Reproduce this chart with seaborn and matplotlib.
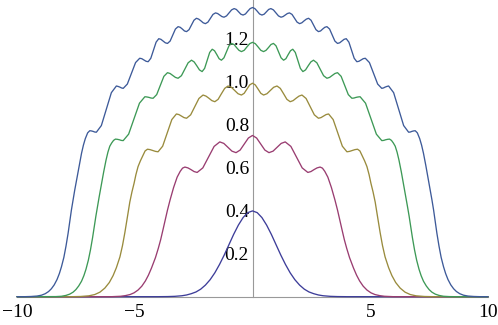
import matplotlib
matplotlib.use("Agg")
import numpy as np
import pandas as pd
import seaborn as sns
import matplotlib.pyplot as plt
from matplotlib.ticker import FixedLocator

# Right half (x >= 0) of each symmetric curve
x_n1 = [0.0, 0.2, 0.4, 0.6, 0.8, 1.0, 1.2, 1.4, 1.6, 1.8, 2.0, 2.2, 2.4, 2.6, 2.8, 3.0, 3.3, 3.6, 4.0, 10.0]
y_n1 = [0.399, 0.391, 0.368, 0.333, 0.290, 0.242, 0.194, 0.150, 0.111, 0.079, 0.054, 0.035, 0.022,
        0.014, 0.008, 0.0044, 0.0017, 0.0006, 0.0001, 0.0]

x_n5 = [0.0, 0.175, 0.35, 0.525, 0.70, 0.873, 1.045, 1.218, 1.39, 1.63, 1.87, 2.11, 2.35, 2.48, 2.61,
        2.74, 2.87, 2.97, 3.07, 3.20, 3.35, 3.50, 3.61, 3.70, 3.80, 3.90, 4.00, 4.12, 4.29, 4.42,
        4.55, 4.70, 4.86, 5.03, 5.20, 5.40, 5.60, 6.00, 10.0]
y_n5 = [0.750, 0.738, 0.710, 0.682, 0.670, 0.677, 0.695, 0.713, 0.720, 0.699, 0.649, 0.599, 0.578,
        0.582, 0.591, 0.599, 0.603, 0.598, 0.583, 0.556, 0.508, 0.450, 0.403, 0.360, 0.312, 0.265,
        0.225, 0.182, 0.133, 0.100, 0.073, 0.049, 0.031, 0.018, 0.010, 0.005, 0.002, 0.0, 0.0]

x_n9 = [0.0, 0.118, 0.235, 0.353, 0.47, 0.613, 0.755, 0.898, 1.04, 1.18, 1.32, 1.46, 1.60, 1.725,
        1.85, 1.975, 2.10, 2.275, 2.45, 2.625, 2.80, 2.908, 3.015, 3.123, 3.23, 3.425, 3.62, 3.815,
        4.01, 4.123, 4.235, 4.348, 4.46, 4.56, 4.66, 4.76, 4.86, 4.95, 5.03, 5.12, 5.21, 5.31, 5.42,
        5.52, 5.63, 5.78, 5.92, 6.08, 6.27, 6.48, 6.70, 6.95, 7.30, 7.70, 10.0]
y_n9 = [0.993, 0.985, 0.966, 0.946, 0.938, 0.944, 0.959, 0.974, 0.980, 0.969, 0.944, 0.918, 0.907,
        0.912, 0.923, 0.933, 0.938, 0.922, 0.884, 0.846, 0.830, 0.833, 0.840, 0.847, 0.850, 0.824,
        0.762, 0.700, 0.674, 0.676, 0.680, 0.684, 0.686, 0.678, 0.655, 0.632, 0.605, 0.568, 0.527,
        0.487, 0.440, 0.372, 0.298, 0.238, 0.185, 0.135, 0.098, 0.066, 0.040, 0.021, 0.010, 0.004,
        0.001, 0.0, 0.0]

x_n13 = [0.0, 0.118, 0.235, 0.353, 0.47, 0.575, 0.68, 0.785, 0.89, 0.998, 1.105, 1.213, 1.32, 1.418,
         1.515, 1.613, 1.71, 1.818, 1.925, 2.033, 2.14, 2.253, 2.365, 2.478, 2.59, 2.733, 2.875,
         3.018, 3.16, 3.273, 3.385, 3.498, 3.61, 3.763, 3.915, 4.068, 4.22, 4.308, 4.395, 4.483,
         4.57, 4.80, 5.03, 5.26, 5.49, 5.573, 5.655, 5.738, 5.82, 5.90, 5.98, 6.06, 6.14, 6.22, 6.32,
         6.43, 6.51, 6.58, 6.65, 6.72, 6.79, 6.88, 6.97, 7.07, 7.16, 7.26, 7.38, 7.50, 7.62, 7.76,
         7.92, 8.11, 8.36, 8.66, 10.0]
y_n13 = [1.183, 1.177, 1.162, 1.146, 1.140, 1.146, 1.159, 1.173, 1.178, 1.167, 1.139, 1.111, 1.100,
         1.107, 1.126, 1.144, 1.151, 1.136, 1.099, 1.062, 1.047, 1.055, 1.074, 1.092, 1.100, 1.088,
         1.058, 1.028, 1.016, 1.020, 1.029, 1.038, 1.042, 1.025, 0.983, 0.940, 0.923, 0.924, 0.927,
         0.929, 0.930, 0.900, 0.828, 0.756, 0.726, 0.727, 0.730, 0.732, 0.733, 0.727, 0.715, 0.700,
         0.672, 0.635, 0.580, 0.513, 0.465, 0.420, 0.375, 0.325, 0.275, 0.218, 0.170, 0.128, 0.098,
         0.072, 0.050, 0.033, 0.021, 0.012, 0.006, 0.002, 0.0005, 0.0, 0.0]

x_n17 = [0.0, 0.10, 0.20, 0.30, 0.40, 0.495, 0.59, 0.685, 0.78, 0.888, 0.995, 1.103, 1.21, 1.30,
         1.39, 1.48, 1.57, 1.678, 1.785, 1.893, 2.00, 2.095, 2.19, 2.285, 2.38, 2.485, 2.59, 2.695,
         2.80, 2.89, 2.98, 3.07, 3.16, 3.273, 3.385, 3.498, 3.61, 3.703, 3.795, 3.888, 3.98, 4.093,
         4.205, 4.318, 4.43, 4.52, 4.61, 4.70, 4.79, 4.965, 5.14, 5.315, 5.49, 5.563, 5.635, 5.708,
         5.78, 5.993, 6.205, 6.418, 6.63, 6.70, 6.77, 6.84, 6.91, 7.00, 7.10, 7.18, 7.26, 7.36,
         7.47, 7.55, 7.62, 7.69, 7.76, 7.83, 7.92, 8.01, 8.11, 8.20, 8.30, 8.42, 8.54, 8.66, 8.80,
         8.96, 9.15, 9.40, 9.70, 10.0]
y_n17 = [1.345, 1.340, 1.328, 1.315, 1.310, 1.314, 1.325, 1.336, 1.340, 1.334, 1.320, 1.306, 1.300,
         1.303, 1.310, 1.317, 1.320, 1.313, 1.295, 1.277, 1.270, 1.274, 1.283, 1.291, 1.295, 1.286,
         1.264, 1.242, 1.233, 1.236, 1.245, 1.253, 1.256, 1.245, 1.217, 1.189, 1.178, 1.181, 1.189,
         1.197, 1.200, 1.184, 1.147, 1.109, 1.093, 1.095, 1.101, 1.107, 1.109, 1.089, 1.039, 0.989,
         0.969, 0.971, 0.975, 0.978, 0.980, 0.949, 0.873, 0.796, 0.765, 0.766, 0.769, 0.771, 0.772,
         0.762, 0.735, 0.705, 0.667, 0.610, 0.543, 0.495, 0.450, 0.403, 0.350, 0.295, 0.235, 0.183,
         0.140, 0.108, 0.080, 0.055, 0.037, 0.024, 0.014, 0.007, 0.003, 0.001, 0.0, 0.0]

curve_names = ["n1", "n5", "n9", "n13", "n17"]
colors = ["#3d3d99", "#993d71", "#998b3d", "#3d9956", "#3d5a99"]

x_ticks = [-10, -5, 5, 10]
x_tick_labels = ["\u221210", "\u22125", "5", "10"]
y_ticks = [0.2, 0.4, 0.6, 0.8, 1.0, 1.2]
y_tick_labels = ["0.2", "0.4", "0.6", "0.8", "1.0", "1.2"]

halves = {"n1": (x_n1, y_n1), "n5": (x_n5, y_n5), "n9": (x_n9, y_n9),
          "n13": (x_n13, y_n13), "n17": (x_n17, y_n17)}

frames = []
for name in curve_names:
    xs, ys = halves[name]
    xs = np.asarray(xs, float)
    ys = np.asarray(ys, float)
    full_x = np.concatenate([-xs[::-1], xs[1:]])
    full_y = np.concatenate([ys[::-1], ys[1:]])
    frames.append(pd.DataFrame({"x": full_x, "y": full_y, "curve": name}))
df = pd.concat(frames, ignore_index=True)

sns.set_theme(style="white")
plt.rcParams["font.family"] = ["Liberation Serif", "DejaVu Serif"]

W, H = 498, 325
fig = plt.figure(figsize=(W / 100, H / 100), dpi=100)
x_left, x_right, y0_px, px_per_y = 17.0, 488.0, 296.7, 215.0
ax = fig.add_axes([x_left / W, (H - y0_px) / H, (x_right - x_left) / W, y0_px / H])
ax.set_facecolor("white")

sns.lineplot(data=df, x="x", y="y", hue="curve", hue_order=curve_names, palette=colors,
             estimator=None, sort=False, linewidth=0.95, legend=False, ax=ax)
for ln in ax.get_lines():
    ln.set_clip_on(False)
    ln.set_zorder(4)
    ln.set_solid_joinstyle("round")

ax.set_xlim(-10, 10)
ax.set_ylim(0, y0_px / px_per_y)

axis_gray = "#999999"
for s in ["top", "right"]:
    ax.spines[s].set_visible(False)
ax.spines["left"].set_position(("data", 0))
for s in ["left", "bottom"]:
    ax.spines[s].set_color(axis_gray)
    ax.spines[s].set_linewidth(0.8)
    ax.spines[s].set_zorder(2)

ax.set_xticks(x_ticks)
ax.set_xticklabels(x_tick_labels)
ax.xaxis.set_minor_locator(FixedLocator([i for i in range(-9, 10) if i % 5 != 0]))
ax.set_yticks(y_ticks)
ax.set_yticklabels(y_tick_labels)
ax.yaxis.set_minor_locator(FixedLocator([round(0.05 * i, 2) for i in range(1, 28) if i % 4 != 0]))

ax.tick_params(axis="both", which="both", direction="in", color=axis_gray, labelcolor="black",
               labelsize=14)
ax.tick_params(axis="both", which="major", length=3.5, width=0.7)
ax.tick_params(axis="both", which="minor", length=2.0, width=0.6)
ax.tick_params(axis="x", which="major", pad=5)
ax.tick_params(axis="y", which="major", pad=2.5)
ax.set_xlabel("")
ax.set_ylabel("")
ax.grid(False)

fig.savefig("out.png", dpi=100, facecolor="white")
